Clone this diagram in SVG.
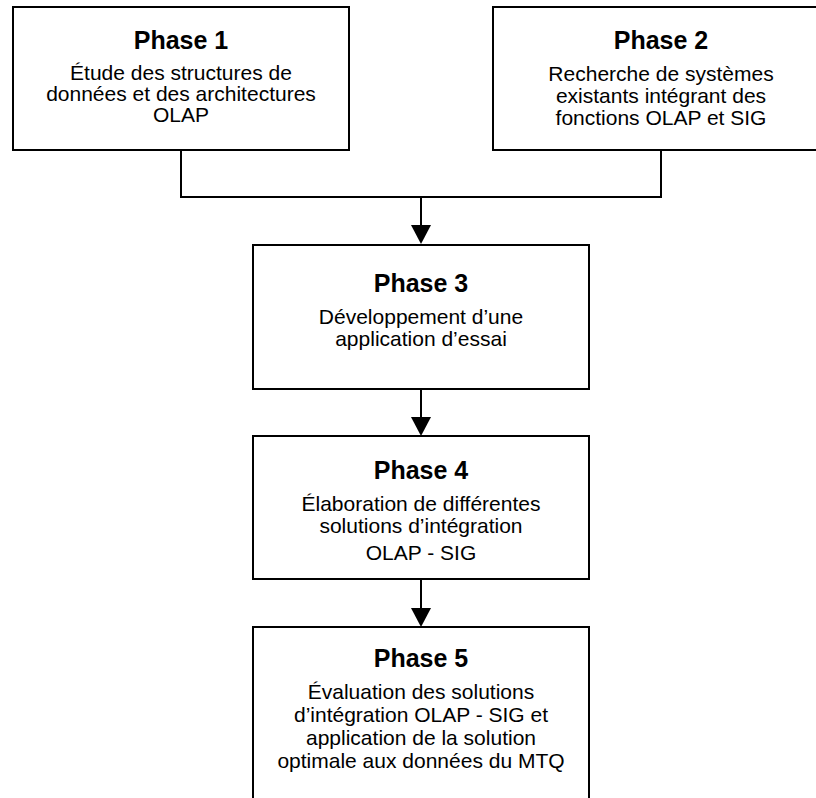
<svg xmlns="http://www.w3.org/2000/svg" width="816" height="798" viewBox="0 0 816 798">
  <defs>
    <marker id="arrow" viewBox="0 0 20 19" refX="10" refY="19" markerWidth="20" markerHeight="19" markerUnits="userSpaceOnUse" orient="auto-start-reverse">
      <path d="M0,0 L20,0 L10,19 Z" fill="#000"/>
    </marker>
    <style>
      .box { fill: #fff; stroke: #000; stroke-width: 2; }
      .title { font-family: "Liberation Sans", Arial, sans-serif; font-weight: bold; font-size: 25px; fill: #000; text-anchor: middle; }
      .body { font-family: "Liberation Sans", Arial, sans-serif; font-size: 21px; fill: #000; text-anchor: middle; }
      .wire { fill: none; stroke: #000; stroke-width: 2; }
    </style>
  </defs>
  <rect width="816" height="798" fill="#fff"/>

  <g id="connectors">
    <path class="wire" d="M181,150 V197 H661 V150"/>
    <path class="wire" d="M421,197 V225"/>
    <path d="M411,225 L431,225 L421,244 Z" fill="#000"/>
    <path class="wire" d="M421,389 V417"/>
    <path d="M411,417 L431,417 L421,436 Z" fill="#000"/>
    <path class="wire" d="M421,579 V608"/>
    <path d="M411,608 L431,608 L421,627 Z" fill="#000"/>
  </g>

  <g id="phase1">
    <rect class="box" x="13" y="7" width="336" height="143"/>
    <text class="title" x="181" y="49">Phase 1</text>
    <text class="body" x="181" y="80">Étude des structures de</text>
    <text class="body" x="181" y="101">données et des architectures</text>
    <text class="body" x="181" y="122">OLAP</text>
  </g>

  <g id="phase2">
    <rect class="box" x="493" y="7" width="336" height="143"/>
    <text class="title" x="661" y="49">Phase 2</text>
    <text class="body" x="661" y="81">Recherche de systèmes</text>
    <text class="body" x="661" y="103">existants intégrant des</text>
    <text class="body" x="661" y="125">fonctions OLAP et SIG</text>
  </g>

  <g id="phase3">
    <rect class="box" x="253" y="245" width="336" height="144"/>
    <text class="title" x="421" y="292">Phase 3</text>
    <text class="body" x="421" y="324">Développement d’une</text>
    <text class="body" x="421" y="346">application d’essai</text>
  </g>

  <g id="phase4">
    <rect class="box" x="253" y="436" width="336" height="143"/>
    <text class="title" x="421" y="479">Phase 4</text>
    <text class="body" x="421" y="511">Élaboration de différentes</text>
    <text class="body" x="421" y="533">solutions d’intégration</text>
    <text class="body" x="421" y="560">OLAP - SIG</text>
  </g>

  <g id="phase5">
    <rect class="box" x="253" y="627" width="336" height="180"/>
    <text class="title" x="421" y="667">Phase 5</text>
    <text class="body" x="421" y="699">Évaluation des solutions</text>
    <text class="body" x="421" y="722">d’intégration OLAP - SIG et</text>
    <text class="body" x="421" y="745">application de la solution</text>
    <text class="body" x="421" y="768">optimale aux données du MTQ</text>
  </g>
</svg>
